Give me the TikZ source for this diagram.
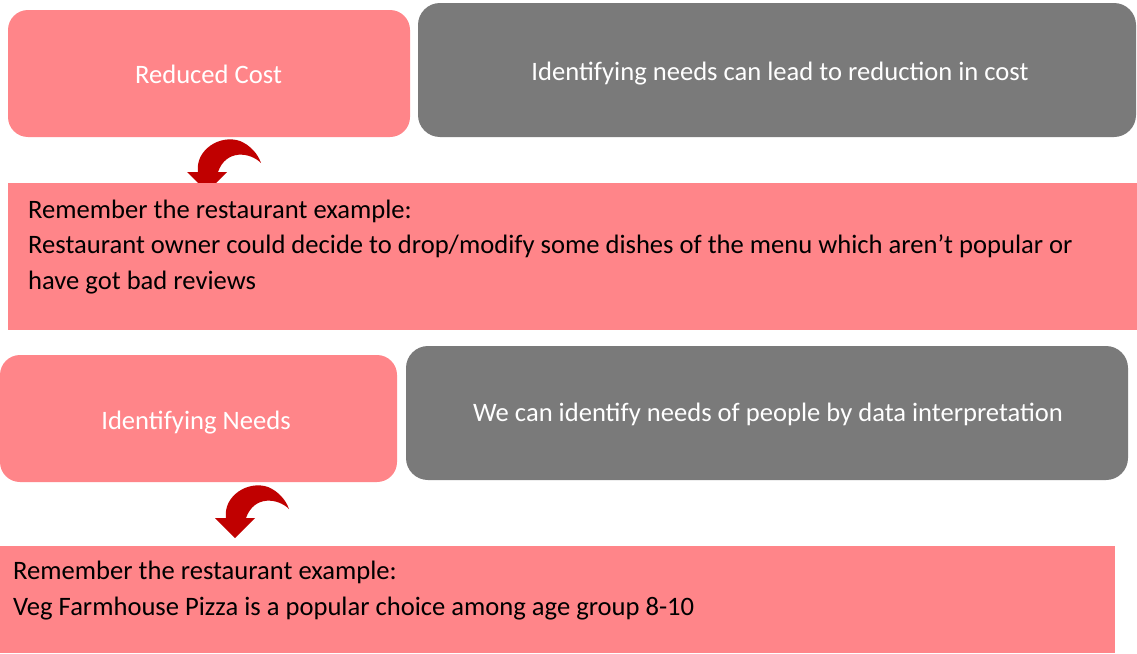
\documentclass[tikz,border=0pt]{standalone}
\usepackage{fontspec}
\setmainfont{Carlito}
\definecolor{pinkbox}{HTML}{FF8589}
\definecolor{greybox}{HTML}{7A7A7A}
\definecolor{arrowred}{HTML}{C00000}
\begin{document}
\begin{tikzpicture}[x=1pt,y=-1pt,
  roundpink/.style={fill=pinkbox,draw=none,rounded corners=20pt},
  roundgrey/.style={fill=greybox,draw=none,rounded corners=22pt},
  widepink/.style={fill=pinkbox,draw=none},
  boxtext/.style={anchor=base,inner sep=0pt,text=white,font=\fontsize{26.6}{32}\selectfont},
  bodytext/.style={anchor=base west,inner sep=0pt,text=black,font=\fontsize{26.6}{32}\selectfont},
  curlarrow/.pic={
    \fill[arrowred] (198,172) .. controls (195,150) and (220,134) .. (240,141)
      .. controls (250,145) and (258,154) .. (261,163)
      .. controls (250,152) and (226,149) .. (218,172) -- cycle;
    \fill[arrowred] (187,172) -- (227,172) -- (207,192) -- cycle;
  }]
\useasboundingbox (0,0) rectangle (1137,653);
\fill[white] (0,0) rectangle (1137,653);
% row 1
\path[roundpink] (8,10) rectangle (410,137);
\node[boxtext] (rc) at (208.5,83) {Reduced Cost};
\path[roundgrey] (418,3) rectangle (1136,137);
\node[boxtext] (rcd) at (780,80) {Identifying needs can lead to reduction in cost};
% arrow 1
\pic (arr1) at (0,0) {curlarrow};
% wide 1
\path[widepink] (8,183) rectangle (1137,330);
\node[bodytext] (ex1a) at (28,218) {Remember the restaurant example:};
\node[bodytext] (ex1b) at (28,253.5) {Restaurant owner could decide to drop/modify some dishes of the menu which aren’t popular or};
\node[bodytext] (ex1c) at (28,289) {have got bad reviews};
% row 2
\path[roundpink] (0,355) rectangle (397,482);
\node[boxtext] (idn) at (196,429) {Identifying Needs};
\path[roundgrey] (406,346) rectangle (1128,480);
\node[boxtext] (idnd) at (768,421) {We can identify needs of people by data interpretation};
% arrow 2
\pic (arr2) at (28,346) {curlarrow};
% wide 2
\path[widepink] (0,546) rectangle (1115,653);
\node[bodytext] (ex2a) at (13,579) {Remember the restaurant example:};
\node[bodytext] (ex2b) at (13,615) {Veg Farmhouse Pizza is a popular choice among age group 8-10};
\end{tikzpicture}
\end{document}
